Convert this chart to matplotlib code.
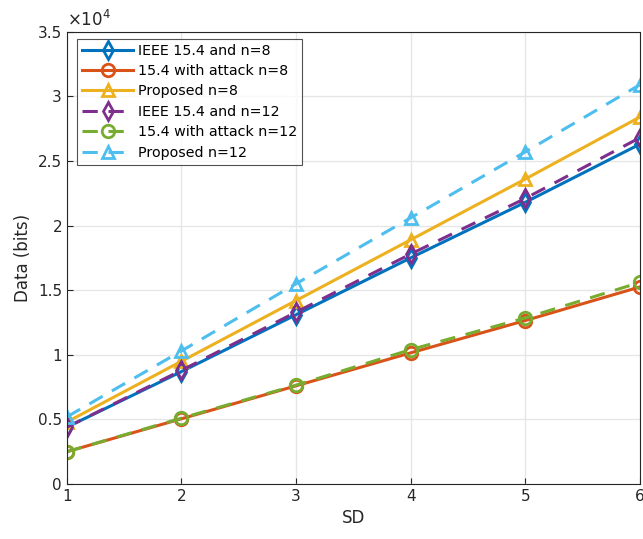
import numpy as np
import matplotlib.pyplot as plt

sd = [1, 2, 3, 4, 5, 6]

ieee_n8 = [4400, 8700, 13100, 17500, 21800, 26300]
attack_n8 = [2500, 5050, 7600, 10150, 12650, 15250]
prop_n8 = [4800, 9500, 14200, 18900, 23600, 28400]
ieee_n12 = [4400, 8800, 13300, 17800, 22100, 26800]
attack_n12 = [2500, 5100, 7650, 10400, 12850, 15600]
prop_n12 = [5200, 10300, 15500, 20600, 25700, 30900]

labels = ['IEEE 15.4 and n=8', '15.4 with attack n=8', 'Proposed n=8',
          'IEEE 15.4 and n=12', '15.4 with attack n=12', 'Proposed n=12']
colors = ['#0072BD', '#D95319', '#EDB120', '#7E2F8E', '#77AC30', '#4DBEEE']
markers = ['d', 'o', '^', 'd', 'o', '^']
styles = ['-', '-', '-', '--', '--', '--']
series = [ieee_n8, attack_n8, prop_n8, ieee_n12, attack_n12, prop_n12]

fig = plt.figure(figsize=(6.43, 5.39), dpi=100)
ax = fig.add_axes([0.104, 0.102, 0.891, 0.839])

for ys, lab, c, m, ls in zip(series, labels, colors, markers, styles):
    ax.plot(sd, np.array(ys) / 1e4, ls, color=c, marker=m, markersize=9,
            markerfacecolor='none', markeredgewidth=2, linewidth=2.2,
            label=lab, dashes=(5, 3.5) if ls == '--' else (None, None))

ax.set_xlim(1, 6)
ax.set_ylim(0, 3.5)
ax.set_xticks(sd)
ax.set_yticks(np.arange(0, 3.51, 0.5))
ax.set_yticklabels(['0', '0.5', '1', '1.5', '2', '2.5', '3', '3.5'])
ax.grid(True, color='#e6e6e6', linewidth=1)
ax.set_axisbelow(True)
ax.tick_params(direction='in', labelsize=11, colors='#262626', length=4)
for s in ax.spines.values():
    s.set_color('#262626')
ax.set_xlabel('SD', fontsize=12, color='#262626')
ax.set_ylabel('Data (bits)', fontsize=12, color='#262626')
ax.text(0, 1.005, r'$\times10^4$', transform=ax.transAxes, fontsize=12,
        color='#262626', va='bottom', ha='left')

leg = ax.legend(loc='upper left', fontsize=10.3, fancybox=False,
                edgecolor='#262626', handlelength=3.6, borderpad=0.35,
                labelspacing=0.45, handletextpad=0.3, borderaxespad=0,
                bbox_to_anchor=(0.0175, 0.985))
leg.get_frame().set_linewidth(0.8)

fig.savefig('out.png', dpi=100)
